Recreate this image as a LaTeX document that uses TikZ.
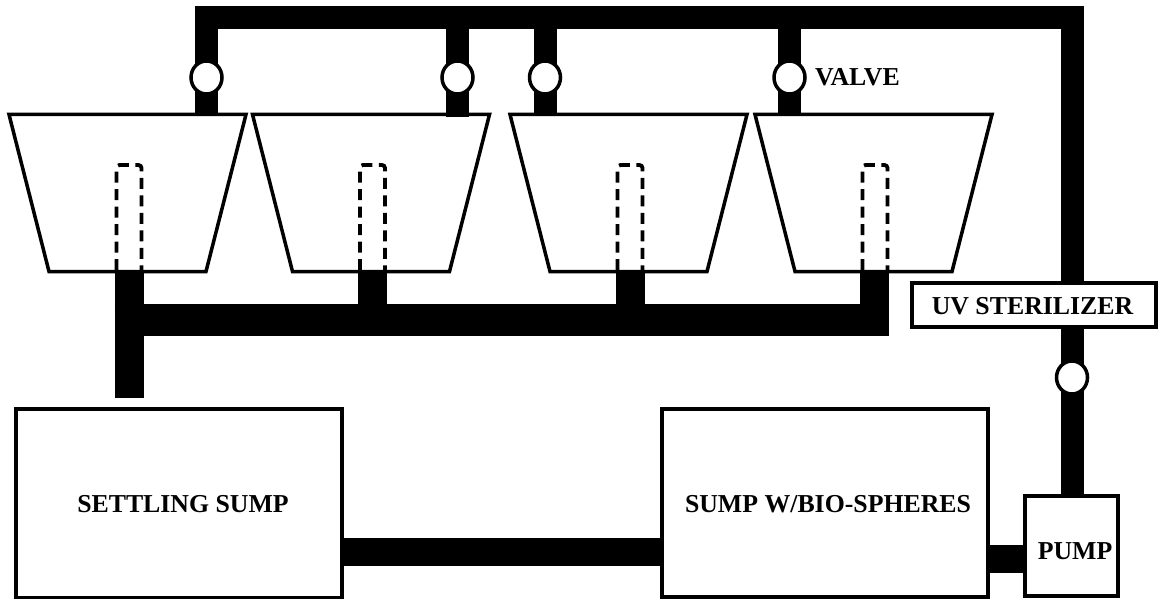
\documentclass[tikz,border=0pt]{standalone}
\usepackage{fontspec}
\setmainfont{Liberation Serif}
\usetikzlibrary{shapes.geometric}
\begin{document}
\begin{tikzpicture}
[x=1pt,y=-1pt,%
  pipeDecorate/.style={-,line width=23pt,line cap=butt},
  drainDecorate/.style={-,line width=29pt,line cap=butt},
  tankDecorate/.style={draw,line width=3.5pt,line join=miter,fill=white},
  tubeDecorate/.style={draw,line width=3.8pt,dash pattern=on 11pt off 6.5pt,rounded corners=3pt},
  valveDecorate/.style={shape=ellipse,minimum width=31pt,minimum height=33pt,inner sep=0pt,
    draw,line width=3.5pt,fill=white},
  boxDecorate/.style={shape=rectangle,inner sep=0pt,draw,line width=3.5pt,fill=white},
  textDecorate/.style={inner sep=0pt,font=\fontsize{25.8}{30}\selectfont\bfseries}]
\useasboundingbox (0,0) rectangle (1158,599);
%% return line along the top
\foreach \nodename/\x/\y in {
  top0/206.5/17.5, top1/457.5/17.5, top2/545/17.5, top3/789.5/17.5, top4/1072/17.5,
  drop0/206.5/116, drop1/457.5/117, drop2/545/116, drop3/789.5/116}
{
  \coordinate (\nodename) at (\x,\y);
}
%% tanks and their standpipes
\foreach \x in {127.5, 371, 628.5, 873.5}
{
  \draw[tankDecorate] (\x-118.5,114.5) -- (\x+118.5,114.5) -- (\x+78.5,271.5) -- (\x-78.5,271.5) -- cycle;
  \draw[tubeDecorate] (\x-11,270) -- (\x-11,165) -- (\x+14,165) -- (\x+14,270);
}
%% sumps, sterilizer, pump
\node (settling) at (179,503.5) [boxDecorate,minimum width=326pt,minimum height=189pt] {};
\node (biosump) at (825,503) [boxDecorate,minimum width=326pt,minimum height=188pt] {};
\node (pump) at (1071.5,546) [boxDecorate,minimum width=93pt,minimum height=100pt] {};
\node (uv) at (1034,305) [boxDecorate,minimum width=244pt,minimum height=44pt] {};
%% drain line under the tanks
\foreach \nodename/\x/\y in {
  out0/129/270, out1/372/270, out2/630/270, out3/874/270,
  bus0/129/319.5, bus1/372/319.5, bus2/630/319.5, bus3/874/319.5, sumpin/129/398,
  link0/0/552, link1/0/559}
{
  \coordinate (\nodename) at (\x,\y);
}
\path
\foreach \startnode/\endnode in {out0/sumpin, out1/bus1, out2/bus2, out3/bus3}
{
  (\startnode) edge[drainDecorate] node {} (\endnode)
};
\draw[-,line width=32pt] ([xshift=-14.5pt]bus0) -- ([xshift=14.5pt]bus3);
%% supply pipes
\path
\foreach \startnode/\endnode in {top0/drop0, top1/drop1, top2/drop2, top3/drop3}
{
  (\startnode) edge[pipeDecorate] node {} (\endnode)
};
\draw[pipeDecorate,line join=miter] (drop0) -- (top0) -- (top4) -- (uv.north -| top4);
\draw[pipeDecorate] (uv.south -| top4) -- (pump.north -| top4);
%% connections between the boxes
\draw[-,line width=28pt] (settling.east |- link0) -- (biosump.west |- link0);
\draw[-,line width=28pt] (biosump.east |- link1) -- (pump.west |- link1);
%% valves
\foreach \nodename/\x/\y in {
  valve0/206.5/77.5, valve1/457.5/77.5, valve2/545/77.5, valve3/789.5/77.5, valve4/1072/377.5}
{
  \node (\nodename) at (\x,\y) [valveDecorate] {};
}
%% labels
\foreach \nodename/\x/\y/\name in {
  valvetext/857.5/77/VALVE, settlingtext/183/504/SETTLING SUMP,
  biotext/828/504/{SUMP W/BIO-SPHERES}, pumptext/1075/551/PUMP, uvtext/1032.5/306/UV STERILIZER}
{
  \node (\nodename) at (\x,\y) [textDecorate] {\name};
}
\end{tikzpicture}
\end{document}
